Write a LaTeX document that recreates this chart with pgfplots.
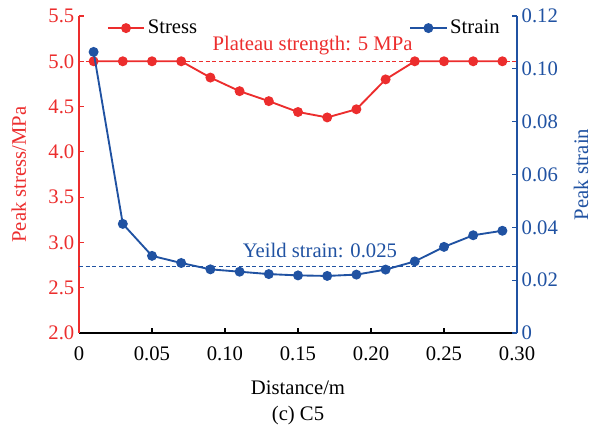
\documentclass[border=0pt]{standalone}
\usepackage{pgfplots}
\pgfplotsset{compat=1.18}
\usepackage{fontspec}
\setmainfont{Liberation Serif}
\usetikzlibrary{calc}
\definecolor{sred}{RGB}{236,45,45}
\definecolor{sblue}{RGB}{32,82,162}
\newcommand{\fs}{\fontsize{15.5}{18}\selectfont}
\pgfplotsset{
  common/.style={
    scale only axis, width=328.5pt, height=237.75pt,
    xmin=0, xmax=0.30,
    tick align=inside, major tick length=4pt,
    axis line style={-, line width=0.8pt},
    every tick/.style={line width=0.8pt},
    every tick label/.append style={font=\fs},
    label style={font=\fs},
    /pgf/number format/assume math mode=true,
    legend style={draw=none, fill=none, font=\fs, inner sep=1pt},
    legend image code/.code={\draw[mark repeat=2,mark phase=2,##1] plot coordinates {(0cm,0cm) (0.48cm,0cm) (0.96cm,0cm)};},
  },
}
\begin{document}
\begin{tikzpicture}
\begin{axis}[common, name=ax,
  ymin=2, ymax=5.5,
  axis x line*=bottom, axis y line*=left,
  xtick={0,0.05,0.10,0.15,0.20,0.25,0.30},
  xticklabels={0,0.05,0.10,0.15,0.20,0.25,0.30},
  xticklabel style={yshift=-7pt},
  ytick={2,2.5,3,3.5,4,4.5,5,5.5},
  yticklabels={2.0,2.5,3.0,3.5,4.0,4.5,5.0,5.5},
  y axis line style={sred}, ytick style={sred},
  yticklabel style={sred},
  xlabel={Distance/m}, xlabel style={yshift=-8pt},
  ylabel={Peak stress/MPa},
  ylabel style={sred, yshift=10pt},
  legend style={at={(0.06,1)}, anchor=north west},
]
\addplot[sred, dash pattern=on 3pt off 2pt, line width=0.7pt, forget plot] coordinates {(0,5) (0.30,5)};
\addplot[sred, line width=1.4pt, mark=*, mark size=3pt] coordinates {
 (0.01,5.0) (0.03,5.0) (0.05,5.0) (0.07,5.0) (0.09,4.82) (0.11,4.67) (0.13,4.56)
 (0.15,4.44) (0.17,4.38) (0.19,4.47) (0.21,4.80) (0.23,5.0) (0.25,5.0) (0.27,5.0) (0.29,5.0)
};
\legend{Stress}
\node[sred, font=\fs] at (axis cs:0.160,5.17) {Plateau strength: 5 MPa};
\end{axis}
\begin{axis}[common,
  ymin=0, ymax=0.12,
  axis y line*=right, axis x line=none,
  ytick={0,0.02,0.04,0.06,0.08,0.10,0.12},
  yticklabels={0,0.02,0.04,0.06,0.08,0.10,0.12},
  y axis line style={sblue}, ytick style={sblue},
  yticklabel style={sblue},
  ylabel={Peak strain}, ylabel style={sblue, yshift=-5pt},
  legend style={at={(0.97,1)}, anchor=north east},
]
\addplot[sblue, dash pattern=on 3pt off 2pt, line width=0.7pt, forget plot] coordinates {(0,0.025) (0.30,0.025)};
\addplot[sblue, line width=1.4pt, mark=*, mark size=3pt] coordinates {
 (0.01,0.1064) (0.03,0.0413) (0.05,0.0292) (0.07,0.0265) (0.09,0.0241) (0.11,0.0232)
 (0.13,0.0223) (0.15,0.0218) (0.17,0.0216) (0.19,0.0221) (0.21,0.0240) (0.23,0.0271)
 (0.25,0.0326) (0.27,0.0370) (0.29,0.0387)
};
\legend{Strain}
\node[sblue, font=\fs] at (axis cs:0.165,0.0314) {Yeild strain: 0.025};
\end{axis}
\node[font=\fs] at ($(ax.south)+(0,-62pt)$) {(c) C5};
\pgfresetboundingbox
\path ($(ax.south west)+(-59.25pt,-72.75pt)$) rectangle ($(ax.north east)+(56.25pt,12pt)$);
\end{tikzpicture}
\end{document}
